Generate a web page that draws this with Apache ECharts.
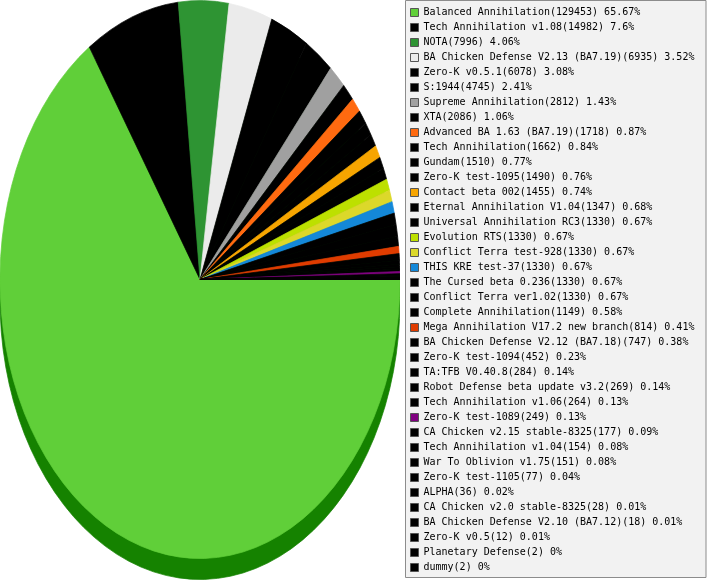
<!DOCTYPE html>
<html>
<head>
<meta charset="utf-8">
<script src="https://cdn.jsdelivr.net/npm/echarts@6/dist/echarts.min.js"></script>
<style>
  html, body { margin: 0; padding: 0; background: #ffffff; }
  #wrap { position: relative; width: 707px; height: 580px; overflow: hidden; }
  #pie { position: absolute; left: 0; top: 0; width: 400px; height: 416px; transform-origin: 0 0; transform: scaleY(1.395); }
  #leg { position: absolute; left: 0; top: 0; width: 707px; height: 580px; }
</style>
</head>
<body>
<div id="wrap">
  <div id="pie"></div>
  <div id="leg"></div>
</div>
<script>
const names = [
  "Balanced Annihilation", "Tech Annihilation v1.08", "NOTA", "BA Chicken Defense V2.13 (BA7.19)",
  "Zero-K v0.5.1", "S:1944", "Supreme Annihilation", "XTA", "Advanced BA 1.63 (BA7.19)",
  "Tech Annihilation", "Gundam", "Zero-K test-1095", "Contact beta 002", "Eternal Annihilation V1.04",
  "Universal Annihilation RC3", "Evolution RTS", "Conflict Terra test-928", "THIS KRE test-37",
  "The Cursed beta 0.236", "Conflict Terra ver1.02", "Complete Annihilation",
  "Mega Annihilation V17.2 new branch", "BA Chicken Defense V2.12 (BA7.18)", "Zero-K test-1094",
  "TA:TFB V0.40.8", "Robot Defense beta update v3.2", "Tech Annihilation v1.06", "Zero-K test-1089",
  "CA Chicken v2.15 stable-8325", "Tech Annihilation v1.04", "War To Oblivion v1.75", "Zero-K test-1105",
  "ALPHA", "CA Chicken v2.0 stable-8325", "BA Chicken Defense V2.10 (BA7.12)", "Zero-K v0.5",
  "Planetary Defense", "dummy"
];
const values = [
  129453, 14982, 7996, 6935, 6078, 4745, 2812, 2086, 1718, 1662, 1510, 1490, 1455, 1347,
  1330, 1330, 1330, 1330, 1330, 1330, 1149, 814, 747, 452, 284, 269, 264, 249,
  177, 154, 151, 77, 36, 28, 18, 12, 2, 2
];
const shares = [
  "65.67", "7.6", "4.06", "3.52", "3.08", "2.41", "1.43", "1.06", "0.87", "0.84", "0.77", "0.76", "0.74", "0.68",
  "0.67", "0.67", "0.67", "0.67", "0.67", "0.67", "0.58", "0.41", "0.38", "0.23", "0.14", "0.14", "0.13", "0.13",
  "0.09", "0.08", "0.08", "0.04", "0.02", "0.01", "0.01", "0.01", "0", "0"
];
const colors = [
  "#60cf39", "#000000", "#2e9433", "#ebebeb", "#000000", "#000000", "#a0a0a0", "#000000", "#ff6a10",
  "#000000", "#000000", "#000000", "#f7a500", "#000000", "#000000", "#bde000", "#dcd82a", "#1488d8",
  "#000000", "#000000", "#000000", "#e03c00", "#000000", "#000000", "#000000", "#000000", "#000000",
  "#800080", "#000000", "#000000", "#000000", "#000000", "#000000", "#000000", "#000000", "#000000",
  "#000000", "#000000"
];
const rimColor = "#158200";

const pieData = names.map((n, i) => ({
  name: n, value: values[i],
  itemStyle: { color: colors[i], borderColor: colors[i], borderWidth: 0.6 }
}));
const rimData = names.map((n, i) => ({
  name: n, value: values[i],
  itemStyle: { color: rimColor, borderColor: rimColor, borderWidth: 0.6 }
}));

const pieChart = echarts.init(document.getElementById('pie'), null, { renderer: 'svg' });
pieChart.setOption({
  animation: false,
  series: [
    {
      type: 'pie', center: [200, 215.4], radius: 200, startAngle: 0, clockwise: true,
      data: rimData, silent: true, z: 1,
      label: { show: false }, labelLine: { show: false },
      emphasis: { disabled: true }
    },
    {
      type: 'pie', center: [200, 200.36], radius: 200, startAngle: 0, clockwise: true,
      data: pieData, z: 2,
      label: { show: false }, labelLine: { show: false },
      emphasis: { disabled: true }
    }
  ]
});

const lookup = {};
names.forEach((n, i) => { lookup[n] = n + '(' + values[i] + ') ' + shares[i] + '%'; });

const legendData = names.map((n, i) => ({ name: n, itemStyle: { color: colors[i] } }));

const legChart = echarts.init(document.getElementById('leg'));
legChart.setOption({
  animation: false,
  graphic: [{
    type: 'rect', z: -10,
    shape: { x: 405.5, y: 0.5, width: 300.5, height: 577 },
    style: { fill: '#f2f2f2', stroke: '#8c8c8c', lineWidth: 1 }
  }],
  legend: {
    orient: 'vertical', left: 410, top: 7.5, padding: 0, height: 572,
    itemWidth: 8, itemHeight: 8, itemGap: 5, icon: 'rect',
    selectedMode: false,
    itemStyle: { borderColor: '#555555', borderWidth: 1 },
    textStyle: { fontFamily: 'DejaVu Sans Mono', fontSize: 10, lineHeight: 10, color: '#000000' },
    formatter: name => lookup[name],
    data: legendData
  },
  series: [{
    type: 'pie', center: [-2000, -2000], radius: 1, data: pieData, silent: true,
    label: { show: false }, labelLine: { show: false }
  }]
});
</script>
</body>
</html>
